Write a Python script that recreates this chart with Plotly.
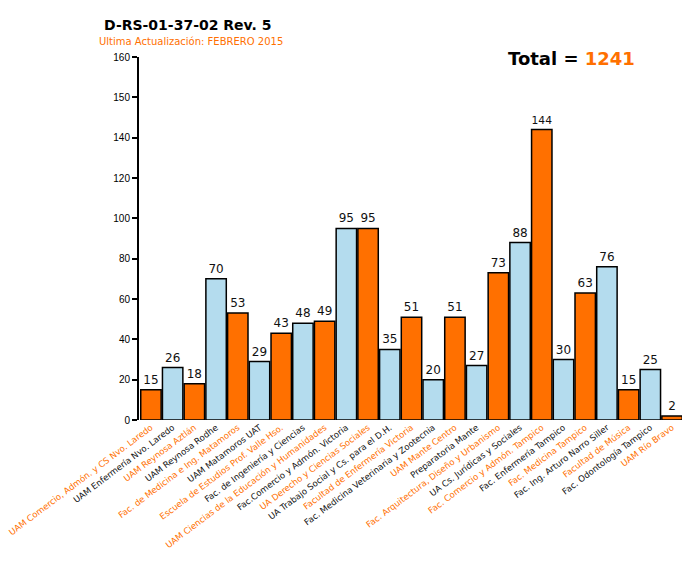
import plotly.graph_objects as go

ORANGE = "#ff7000"
BLUE = "#b4dcee"

campus = [
    "UAM Comercio, Admón. y CS Nvo. Laredo",
    "UAM Enfermería Nvo. Laredo",
    "UAM Reynosa Aztlán",
    "UAM Reynosa Rodhe",
    "Fac. de Medicina e Ing. Matamoros",
    "UAM Matamoros UAT",
    "Escuela de Estudios Prof. Valle Hso.",
    "Fac. de Ingeniería y Ciencias",
    "UAM Ciencias de la Educación y Humanidades",
    "Fac.Comercio y Admón. Victoria",
    "UA Derecho y Ciencias Sociales",
    "UA Trabajo Social y Cs. para el D.H.",
    "Facultad de Enfermería Victoria",
    "Fac. Medicina Veterinaria y Zootecnia",
    "UAM Mante Centro",
    "Preparatoria Mante",
    "Fac. Arquitectura, Diseño y Urbanismo",
    "UA Cs. Jurídicas y Sociales",
    "Fac. Comercio y Admón. Tampico",
    "Fac. Enfermería Tampico",
    "Fac. Medicina Tampico",
    "Fac. Ing. Arturo Narro Siller",
    "Facultad de Música",
    "Fac. Odontología Tampico",
    "UAM Río Bravo",
]
alumnos = [15, 26, 18, 70, 53, 29, 43, 48, 49, 95, 95, 35, 51, 20, 51,
           27, 73, 88, 144, 30, 63, 76, 15, 25, 2]

y_tickvals = [0, 20, 40, 60, 80, 100, 120, 140, 160, 180]
y_ticktext = ["0", "20", "40", "60", "80", "100", "120", "140", "150", "160"]

bar_colors = [ORANGE if i % 2 == 0 else BLUE for i in range(len(campus))]
tick_labels = [
    "<span style='color:%s'>%s</span>" % (ORANGE if i % 2 == 0 else "#111111", c)
    for i, c in enumerate(campus)
]

# page body has an 8px margin, so the figure is drawn 8px in from top-left
W, H = 682, 559
L, R, T, B = 131, 6, 49, 147
pw = W - L - R
ph = H - T - B


def px2paper(x, y):
    # screenshot pixel position -> paper coords
    x, y = x - 8, y - 8
    return (x - L) / pw, (H - y - B) / ph


fig = go.Figure()
fig.add_trace(go.Bar(
    x=list(range(len(campus))),
    y=alumnos,
    marker=dict(color=bar_colors, line=dict(color="black", width=1.5)),
    text=[str(v) for v in alumnos],
    textposition="outside",
    textfont=dict(family="DejaVu Sans", size=12, color="#111111"),
    cliponaxis=False,
))

tx, ty = px2paper(188, 25)
sx, sy = px2paper(191, 42)
ox, oy = px2paper(571, 59)

fig.update_layout(
    width=W, height=H,
    margin=dict(l=L, r=R, t=T, b=B),
    paper_bgcolor="white", plot_bgcolor="white",
    bargap=0.06,
    showlegend=False,
    xaxis=dict(
        tickmode="array",
        tickvals=list(range(len(campus))),
        ticktext=tick_labels,
        tickangle=-37,
        tickfont=dict(family="DejaVu Sans", size=8.6),
        ticklabeloverflow="allow",
        showgrid=False, zeroline=False, showline=False,
        range=[-0.55, len(campus) - 0.45],
        automargin=False,
    ),
    yaxis=dict(
        range=[0, 180],
        tickmode="array",
        tickvals=y_tickvals,
        ticktext=y_ticktext,
        tickfont=dict(family="Liberation Sans", size=10, color="black"),
        ticks="outside", ticklen=5, tickwidth=1.5, tickcolor="black",
        showline=True, linewidth=2, linecolor="black",
        showgrid=False, zeroline=False,
        automargin=False,
    ),
    annotations=[
        dict(text="<b>D-RS-01-37-02 Rev. 5</b>", x=tx, y=ty,
             xref="paper", yref="paper", showarrow=False,
             xanchor="center", yanchor="middle",
             font=dict(family="DejaVu Sans", size=14, color="black")),
        dict(text="Ultima Actualización: FEBRERO 2015", x=sx, y=sy,
             xref="paper", yref="paper", showarrow=False,
             xanchor="center", yanchor="middle",
             font=dict(family="DejaVu Sans", size=10, color=ORANGE)),
        dict(text="<b>Total = <span style='color:%s'>1241</span></b>" % ORANGE,
             x=ox, y=oy, xref="paper", yref="paper", showarrow=False,
             xanchor="center", yanchor="middle",
             font=dict(family="DejaVu Sans", size=18, color="black")),
    ],
)

fig.write_html("out.html")
